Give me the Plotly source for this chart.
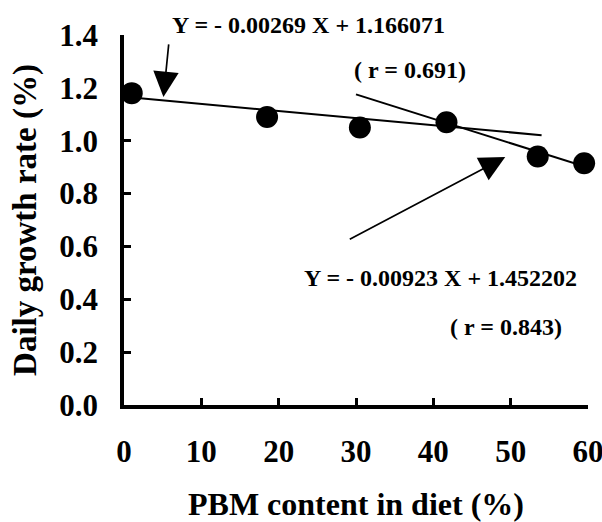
import plotly.graph_objects as go

# data
pbm_content = [1, 18.5, 30.5, 41.7, 53.5, 59.5]
growth_rate = [1.18, 1.09, 1.05, 1.07, 0.94, 0.915]

# regression lines (coefficients shown in the chart) and their drawn extents
fit1_slope, fit1_intercept, fit1_x = -0.00269, 1.166071, [0, 54]
fit2_slope, fit2_intercept, fit2_x = -0.00923, 1.452202, [30, 60]

x_ticks = [0, 10, 20, 30, 40, 50, 60]
y_ticks = [0.0, 0.2, 0.4, 0.6, 0.8, 1.0, 1.2, 1.4]
y_tick_text = ["0.0", "0.2", "0.4", "0.6", "0.8", "1.0", "1.2", "1.4"]

FONT = "Liberation Serif"

fig = go.Figure()
fig.add_trace(go.Scatter(
    x=fit1_x, y=[fit1_slope * v + fit1_intercept for v in fit1_x],
    mode="lines", line=dict(color="black", width=2), cliponaxis=False, showlegend=False))
fig.add_trace(go.Scatter(
    x=fit2_x, y=[fit2_slope * v + fit2_intercept for v in fit2_x],
    mode="lines", line=dict(color="black", width=2), cliponaxis=False, showlegend=False))
fig.add_trace(go.Scatter(
    x=pbm_content, y=growth_rate, mode="markers",
    marker=dict(color="black", size=22), cliponaxis=False, showlegend=False))

ann_font = dict(family=FONT, size=24, color="black", weight="bold")
fig.add_annotation(x=6.0, y=1.027, xref="x", yref="paper", text="Y = - 0.00269 X + 1.166071",
                   showarrow=False, xanchor="left", yanchor="middle", font=ann_font)
fig.add_annotation(x=29.5, y=1.267, xref="x", yref="y", text="( r = 0.691)",
                   showarrow=False, xanchor="left", yanchor="middle", font=ann_font)
fig.add_annotation(x=23.0, y=0.48, xref="x", yref="y", text="Y = - 0.00923 X + 1.452202",
                   showarrow=False, xanchor="left", yanchor="middle", font=ann_font)
fig.add_annotation(x=41.9, y=0.295, xref="x", yref="y", text="( r = 0.843)",
                   showarrow=False, xanchor="left", yanchor="middle", font=ann_font)

# arrows
fig.add_annotation(x=5.1, y=1.165, ax=5.8, ay=1.37, xref="x", yref="y", axref="x", ayref="y",
                   text="", showarrow=True, arrowhead=2, arrowsize=3, arrowwidth=1.7,
                   arrowcolor="black")
fig.add_annotation(x=49.3, y=0.938, ax=29.0, ay=0.624, xref="x", yref="y", axref="x", ayref="y",
                   text="", showarrow=True, arrowhead=2, arrowsize=3, arrowwidth=1.7,
                   arrowcolor="black")

tick_font = dict(family=FONT, size=31, color="black", weight="bold")
title_font = dict(family=FONT, size=33, color="black", weight="bold")
xtitle_font = dict(family=FONT, size=32, color="black", weight="bold")

fig.update_layout(
    width=602, height=522,
    margin=dict(l=124, r=14, t=35, b=117),
    paper_bgcolor="white", plot_bgcolor="white",
    xaxis=dict(range=[0, 60], tickvals=x_ticks, ticks="inside", ticklen=7, tickwidth=3,
               tickcolor="black", showline=True, linewidth=3.5, linecolor="black",
               showgrid=False, zeroline=False, tickfont=tick_font, ticklabelstandoff=16,
               ticklabeloverflow="allow",
               title=dict(text="PBM content in diet (%)", font=xtitle_font, standoff=32),
               automargin=False),
    yaxis=dict(range=[0, 1.4], tickvals=y_ticks, ticktext=y_tick_text, ticks="inside",
               ticklen=7, tickwidth=3, tickcolor="black", showline=True, linewidth=3.5,
               linecolor="black", showgrid=False, zeroline=False, tickfont=tick_font,
               ticklabelstandoff=16, ticklabeloverflow="allow",
               title=dict(text="Daily growth rate (%)", font=title_font, standoff=14),
               automargin=False),
)

fig.write_html("out.html")
